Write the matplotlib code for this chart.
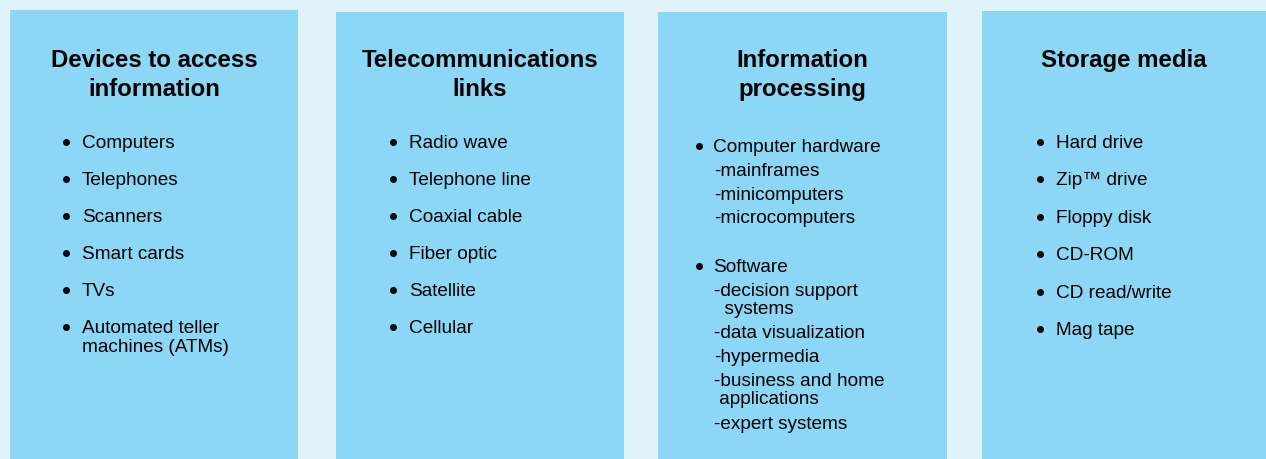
import matplotlib.pyplot as plt
from matplotlib.patches import Rectangle

plt.rcParams['font.family'] = ['Liberation Sans', 'DejaVu Sans']

titles = ['Devices to access\ninformation', 'Telecommunications\nlinks',
          'Information\nprocessing', 'Storage media']
devices = ['Computers', 'Telephones', 'Scanners', 'Smart cards', 'TVs',
           'Automated teller\nmachines (ATMs)']
links = ['Radio wave', 'Telephone line', 'Coaxial cable', 'Fiber optic',
         'Satellite', 'Cellular']
hardware = ['-mainframes', '-minicomputers', '-microcomputers']
software = ['-decision support\n  systems', '-data visualization', '-hypermedia',
            '-business and home\n applications', '-expert systems']
storage = ['Hard drive', 'Zip\u2122 drive', 'Floppy disk', 'CD-ROM',
           'CD read/write', 'Mag tape']

bg = '#e0f3fb'
box = '#8cd7f5'
fs = 13.7

fig = plt.figure(figsize=(12.66, 4.59), dpi=100, facecolor=bg)
ax = fig.add_axes([0, 0, 1, 1])
ax.set_xlim(0, 1266)
ax.set_ylim(459, 0)
ax.axis('off')

# boxes: left, top, right
boxes = [(10, 10, 298), (336, 12, 624), (658, 12, 947), (982, 11, 1266)]
for l, t, r in boxes:
    ax.add_patch(Rectangle((l, t), r - l, 459 - t, color=box, lw=0))

for (l, t, r), title in zip(boxes, titles):
    for k, line in enumerate(title.split('\n')):
        ax.text((l + r) / 2, 60.5 + 29 * k, line, ha='center', va='center',
                fontsize=17.3, fontweight='bold')


def item(x, y, s, gap=18.5):
    for k, line in enumerate(s.split('\n')):
        ax.text(x, y + 1.5 + gap * k, line, ha='left', va='center', fontsize=fs)


def dot(x, y):
    ax.plot(x, y, 'o', color='black', ms=4)


def bullets(items, xb, y0, step):
    for i, s in enumerate(items):
        y = y0 + i * step
        dot(xb, y)
        item(xb + 16, y, s)


bullets(devices, 66, 142, 37.0)
bullets(links, 393, 142, 37.0)
bullets(storage, 1040, 142, 37.4)

# information processing box
dot(699, 146)
item(713, 146, 'Computer hardware')
for i, s in enumerate(hardware):
    item(714, 170 + i * 23.7, s)
dot(699, 266)
item(713, 266, 'Software')
sy = [290, 332, 356, 380, 423]
for y, s in zip(sy, software):
    item(714, y, s)

fig.savefig('out.png', dpi=100, facecolor=bg)
